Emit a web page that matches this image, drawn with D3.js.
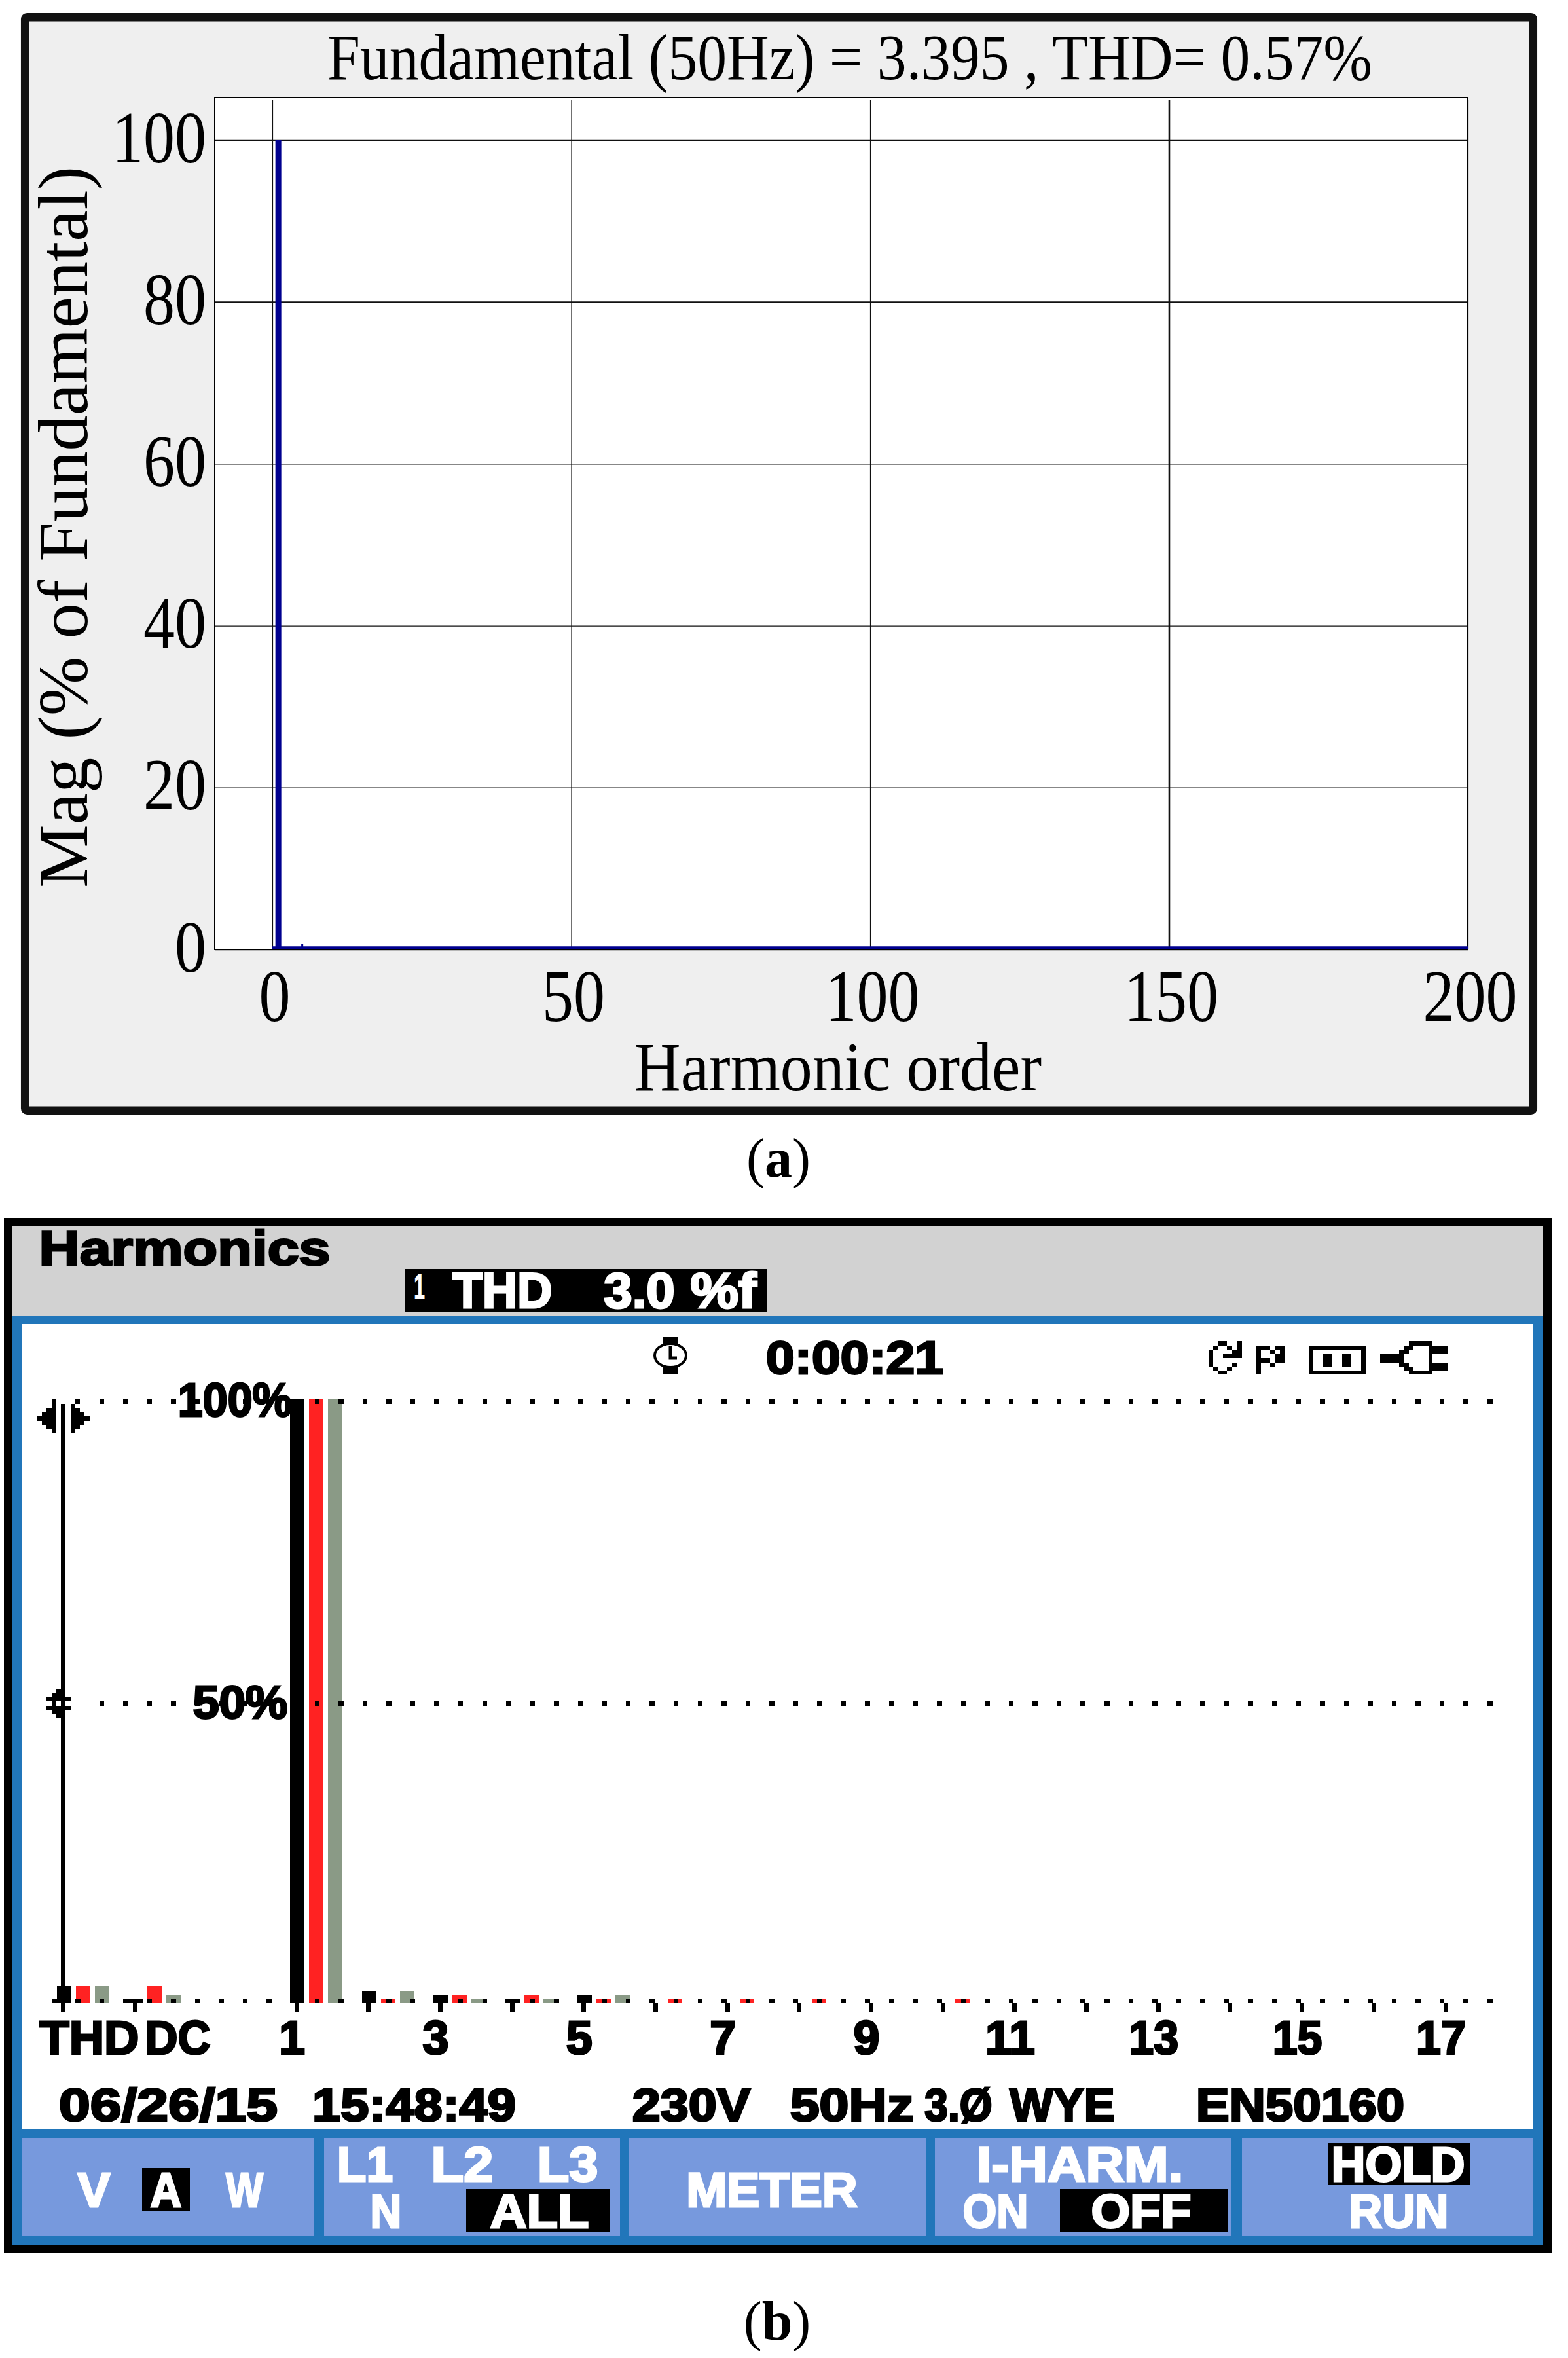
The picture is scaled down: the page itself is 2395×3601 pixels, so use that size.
<!DOCTYPE html>
<html><head><meta charset="utf-8">
<style>html,body{margin:0;padding:0;background:#fff}svg{display:block}</style>
<script src="https://cdn.jsdelivr.net/npm/d3@7/dist/d3.min.js"></script>
</head><body><svg id="c" width="2395" height="3601" viewBox="0 0 2395 3601"></svg>
<script>
// ---------- data: panel (a) ----------
const spectrumOrders = [1, 5];
const spectrumMagnitudes = [100, 0.65];
const xTickValuesA = [0, 50, 100, 150, 200];
const yTickValuesA = [0, 20, 40, 60, 80, 100];
const titleA = "Fundamental (50Hz) = 3.395 , THD= 0.57%";
// ---------- data: panel (b) ----------
const categories = ["THD","DC","1","2","3","4","5","6","7","8","9","10","11","12","13","14","15","16","17"];
const seriesL1 = [2.8,0.7,100,2.1,1.4,0.7,1.4,0,0,0,0,0,0,0,0,0,0,0,0];
const seriesL2 = [2.8,2.8,100,0.7,1.4,1.4,0.7,0.7,0.7,0.7,0,0.7,0,0,0,0,0,0,0];
const seriesL3 = [2.8,1.4,100,2.1,0.7,0.7,1.4,0,0,0,0,0,0,0,0,0,0,0,0];
const seriesColors = ["#000000","#ff2222","#8a9a86"];
const shownHarmonicLabels = ["1","3","5","7","9","11","13","15","17"];

const svg = d3.select("#c");
const SERIF = "'Liberation Serif','Times New Roman',serif";
const PIX = "'Liberation Sans',Arial,sans-serif";
const rect=(g,x,y,w,h,f)=>g.append("rect").attr("x",x).attr("y",y).attr("width",w).attr("height",h).attr("fill",f).attr("shape-rendering","crispEdges");

// ===================== panel (a) =====================
const A = svg.append("g");
A.append("rect").attr("x",38.2).attr("y",26.2).attr("width",2303.6).attr("height",1669.6).attr("rx",3)
 .attr("fill","#efefef").attr("stroke","#111").attr("stroke-width",12.5);
rect(A,328,149,1914,1301,"#fff");
const xA = d3.scaleLinear().domain([0,200]).range([416,2242]);
const yA = d3.scaleLinear().domain([0,100]).range([1450,214]);
function serifText(sel,len,fs){sel.attr("font-family",SERIF).attr("font-size",fs).attr("fill","#000").attr("stroke","none")
   .attr("textLength",len).attr("lengthAdjust","spacingAndGlyphs");}
const axX = A.append("g").attr("transform","translate(0,1450)")
  .call(d3.axisBottom(xA).tickValues(xTickValuesA).tickSize(-1298).tickSizeOuter(0));
axX.select(".domain").remove();
axX.selectAll("line").attr("stroke","#111").attr("stroke-width",d=>d===150?2.6:1.2);
axX.selectAll("text").attr("x",3).attr("y",109).attr("dy",0).each(function(d){serifText(d3.select(this),String(d).length*48,112);});
const axY = A.append("g").attr("transform","translate(328,0)")
  .call(d3.axisLeft(yA).tickValues(yTickValuesA).tickSize(-1914).tickSizeOuter(0));
axY.select(".domain").remove();
axY.selectAll("line").attr("stroke","#111").attr("stroke-width",d=>d===80?2.8:1.4);
axY.selectAll("text").attr("x",-13).attr("dy",0).attr("y",33).each(function(d){serifText(d3.select(this),String(d).length*48,112);});
A.append("rect").attr("x",328).attr("y",149).attr("width",1914).attr("height",1301).attr("fill","none").attr("stroke","#000").attr("stroke-width",2);
A.append("line").attr("x1",xA(0)).attr("x2",xA(200)+1).attr("y1",yA(0)-2.5).attr("y2",yA(0)-2.5).attr("stroke","#00008f").attr("stroke-width",4.5);
A.selectAll(".stem").data(spectrumOrders).join("rect").attr("class","stem")
  .attr("x",(d,i)=>xA(d)-(i?1.5:4.5)).attr("width",(d,i)=>i?3:9)
  .attr("y",(d,i)=>yA(spectrumMagnitudes[i])).attr("height",(d,i)=>yA(0)-yA(spectrumMagnitudes[i]))
  .attr("fill","#00008f");
A.append("text").text(titleA).attr("x",500).attr("y",121).call(serifText,1596,100);
A.append("text").text("Harmonic order").attr("x",969).attr("y",1665).call(serifText,622,106);
A.append("text").text("Mag (% of Fundamental)").attr("transform","translate(133,1356) rotate(-90)").call(serifText,1102,108);

svg.append("text").attr("x",1189).attr("y",1797).attr("text-anchor","middle").attr("font-family",SERIF).attr("font-size",84)
  .html('(<tspan font-weight="bold">a</tspan>)');
svg.append("text").attr("x",1187).attr("y",3573).attr("text-anchor","middle").attr("font-family",SERIF).attr("font-size",84)
  .html('(<tspan font-weight="bold">b</tspan>)');

// ===================== panel (b) =====================
const B = svg.append("g");
const BLUE="#2176ba", BTN="#7799dd";
rect(B,6,1860,2364,1581,"#000");
rect(B,19,1873,2338,136,"#d2d2d2");
rect(B,19,2009,2338,1419,BLUE);
rect(B,34,2022,2307,1230,"#fff");
[[34,479],[495,947],[961,1414],[1428,1881],[1897,2341]].forEach(b=>rect(B,b[0],3265,b[1]-b[0],150,BTN));

// pixel-style text helper: fits a string into measured glyph extents
function pix(g,t,x0,x1,yTop,yBot,fill){
  const n=t.length, adv=(x1-x0)/(n-0.1), fs=(yBot-yTop)/0.716;
  return g.append("text").text(t).attr("x",x0-adv*0.05).attr("y",yBot)
    .attr("font-family",PIX).attr("font-weight","bold").attr("font-size",fs)
    .attr("textLength",adv*n).attr("lengthAdjust","spacingAndGlyphs")
    .attr("fill",fill||"#000").attr("stroke",fill||"#000").attr("stroke-width",3);
}
pix(B,"Harmonics",62,502,1879,1932);
rect(B,619,1938,553,65,"#000");
pix(B,"1",633,648,1944,1983,"#fff").attr("stroke-width",1);
pix(B,"THD",694,841,1943,1997,"#fff");
pix(B,"3.0",924,1029,1943,1997,"#fff");
pix(B,"%f",1057,1153,1943,1997,"#fff");
pix(B,"0:00:21",1172,1439,2048,2098);

// status icons
rect(B,1012,2042,23,11,"#000"); rect(B,1012,2088,23,10,"#000");
B.append("ellipse").attr("cx",1024).attr("cy",2070).attr("rx",24).attr("ry",18).attr("fill","none").attr("stroke","#000").attr("stroke-width",4);
B.append("path").attr("d","M1024 2056V2074H1034").attr("fill","none").attr("stroke","#000").attr("stroke-width",5);
const iconCells = [
 // refresh
 [75,40,118,60],[118,60,140,78],[53,60,75,78],[32,78,53,158],[53,158,75,175],[75,175,118,190],[118,158,140,175],[140,138,162,158],
 [162,40,185,118],[140,78,162,118],[98,98,162,118],
 // flag
 [252,60,272,190],[272,60,315,78],[315,78,338,98],[338,60,380,78],[360,78,380,138],[338,98,360,118],[272,118,315,138],[338,118,360,138],[315,138,338,158],
 // battery
 [492,60,752,78],[492,175,752,190],[492,60,512,190],[732,60,752,190],[558,98,600,158],[645,98,687,158],
 // plug
 [820,98,905,138],[905,78,927,158],[927,60,950,98],[927,138,950,178],[950,40,972,78],[950,158,972,190],
 [972,40,1060,60],[972,175,1060,190],[1040,40,1060,190],[1060,60,1127,98],[1060,138,1127,175]];
iconCells.forEach(c=>rect(B,1835+c[0]/3,2035+c[1]/3,(c[2]-c[0])/3,(c[3]-c[1])/3,"#000"));

// scales
const slot = c => c==="THD"?-2.25:c==="DC"?-1.25:+c;
const xB = d3.scaleLinear().domain([1,17]).range([453,2208]);
const yB = d3.scaleLinear().domain([0,100]).range([3059,2137]);
const barW=22, barStep=29, barLead=10;

// bars
[seriesL1,seriesL2,seriesL3].forEach((vals,s)=>{
  B.append("g").selectAll("rect").data(categories).join("rect")
   .attr("x",c=>xB(slot(c))-barLead+s*barStep).attr("width",barW)
   .attr("y",(c,i)=>yB(vals[i])).attr("height",(c,i)=>yB(0)-yB(vals[i]))
   .attr("fill",seriesColors[s]).attr("shape-rendering","crispEdges");
});

// dotted reference rows
const dotIdx=d3.range(0,60), dotX=d3.scaleLinear().domain([0,59]).range([115,2272]);
[[100,0],[50,0],[0,-7]].forEach(r=>{
  B.append("g").selectAll("rect").data(dotIdx.filter(k=>r[0]>0?dotX(k)>140:true)).join("rect")
   .attr("x",dotX).attr("width",7.5).attr("y",yB(r[0])+r[1]).attr("height",7)
   .attr("fill","#000").attr("shape-rendering","crispEdges");
});

// harmonic ticks
B.append("g").selectAll("rect").data(categories).join("rect")
  .attr("x",c=>xB(slot(c))-3.5).attr("width",7).attr("y",3059).attr("height",13).attr("fill","#000").attr("shape-rendering","crispEdges");
rect(B,79,3052,30,7,"#000");

// cursor
rect(B,92.5,2144,7,915,"#000");
[[79,2137,7,52],[71,2150,8,33],[64,2157,7,19],[57,2163,7,7],
 [108,2144,7,45],[115,2137,7,7],[115,2150,7,33],[122,2157,7,19],[129,2163,8,7]].forEach(p=>rect(B,p[0],p[1],p[2],p[3],"#000"));
[[86,2579,7,7],[79,2586,14,6],[71,2592,37,6],[79,2598,7,7],[71,2605,37,6],[79,2611,21,7],[86,2618,14,6]].forEach(p=>rect(B,p[0],p[1],p[2],p[3],"#000"));

// y labels
pix(B,"100%",274,444,2111,2163);
pix(B,"50%",297,437,2573,2624);

// harmonic labels
pix(B,"THD",63,210,3085,3137);
pix(B,"DC",224,319,3085,3137);
shownHarmonicLabels.forEach(l=>{
  const c=xB(+l)-7, w=l.length>1?72:36;
  pix(B,l,c-w/2,c+w/2,3085,3137);
});

// status row
[["06/26/15",92,422],["15:48:49",479,786],["230V",968,1144],["50Hz",1209,1393],["3.\u00d8",1414,1514],["WYE",1545,1700],["EN50160",1829,2143]]
 .forEach(t=>pix(B,t[0],t[1],t[2],3189,3239));

// soft keys
rect(B,217,3311,73,65,"#000"); rect(B,712,3343,220,65,"#000"); rect(B,1619,3343,256,65,"#000"); rect(B,2028,3272,218,65,"#000");
[["V",121,166,3317,3370],["A",232,275,3317,3370],["W",348,399,3317,3370],
 ["L1",517,598,3278,3331],["L2",661,751,3278,3331],["L3",823,911,3278,3331],
 ["N",568,611,3350,3402],["ALL",751,897,3350,3402],["METER",1051,1307,3317,3370],
 ["I-HARM.",1494,1805,3278,3331],["ON",1473,1568,3350,3402],["OFF",1669,1817,3350,3402],
 ["HOLD",2036,2235,3278,3331],["RUN",2063,2210,3350,3402]].forEach(t=>pix(B,t[0],t[1],t[2],t[3],t[4],"#fff"));
</script></body></html>
